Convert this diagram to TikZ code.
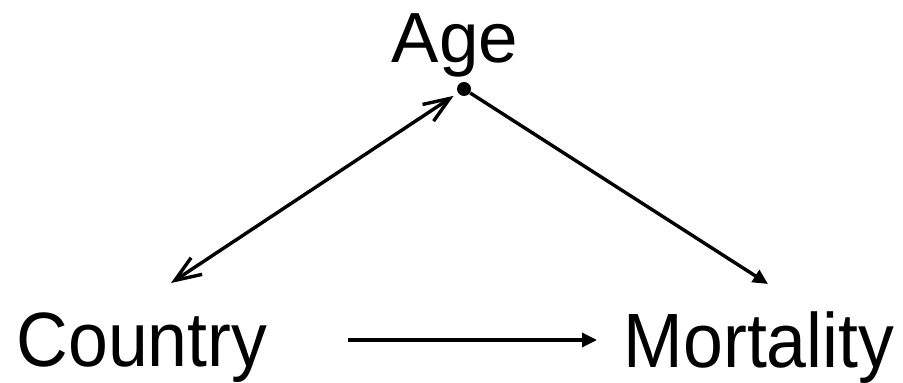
\documentclass[tikz,border=0pt]{standalone}
\usepackage{fontspec}
\setmainfont{Liberation Sans}
\newfontfamily\labelfont[FakeStretch=0.93]{Liberation Sans}
\usetikzlibrary{arrows.meta,positioning}

\begin{document}
\begin{tikzpicture}[
  x=0.5pt, y=-0.5pt,
  var/.style={anchor=base, inner sep=0pt, font=\labelfont\fontsize{38.5}{42}\selectfont},
  topvar/.style={anchor=base, inner sep=0pt, font=\fontsize{35.5}{40}\selectfont},
  arrow/.style={-{Triangle[length=7.5pt, width=7pt]}, line width=1.7pt},
  biarrow/.style={{Straight Barb[length=13pt, width=10pt]}-{Straight Barb[length=13pt, width=10pt]}, line width=1.7pt, shorten <=2.5pt}
]
\useasboundingbox (0,0) rectangle (903,383);

\node[topvar] (age) at (455,63) {Age};
\node[var] (country) at (142,367) {Country};
\node[var] (mortality) at (759,368) {Mortality};

\node[circle, fill, inner sep=0pt, minimum size=7pt] (agedot) at (464,89) {};
\coordinate (cin) at (171,283);
\coordinate (min) at (768,284);
\coordinate (hs) at (348,340);
\coordinate (he) at (597,340);

\draw[biarrow] (agedot) -- (cin);
\draw[arrow] (agedot) -- (min);
\draw[arrow] (hs) -- (he);
\end{tikzpicture}
\end{document}
